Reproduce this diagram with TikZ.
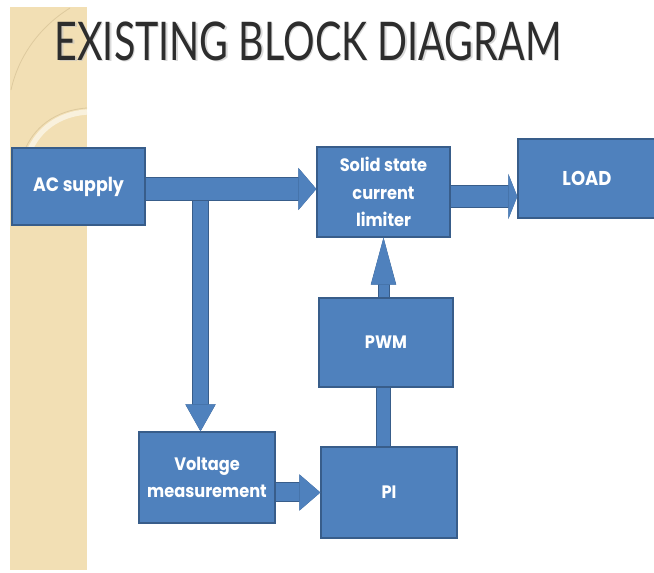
\documentclass[tikz,border=0pt]{standalone}
\usepackage{graphicx}
\usepackage{fontspec}
\setmainfont{Poppins}[FakeStretch=0.9]
\newfontfamily\titlefont{Lato}
\usetikzlibrary{arrows.meta,positioning,calc}

\definecolor{blockfill}{RGB}{79,129,189}
\definecolor{blockedge}{RGB}{56,93,138}
\definecolor{band}{RGB}{242,223,180}
\definecolor{bandline}{RGB}{222,202,158}
\definecolor{titlegray}{RGB}{45,45,45}

\newcommand{\titletext}{\scalebox{0.74}[1]{EXISTING BLOCK DIAGRAM}}

\tikzset{
  block/.style={rectangle, draw=blockedge, fill=blockfill, line width=1pt,
    text=white, font=\bfseries\fontsize{13.5}{20.5}\selectfont, align=center, inner sep=2pt},
  pipe/.style n args={3}{draw=blockfill, line width=#1,
    -{Triangle[length=#2,width=#3,line width=0pt]},
    preaction={draw=blockedge, line width=#1+1.5pt,
      -{Triangle[length=#2,width=#3,line width=1.5pt]}}},
  link/.style={draw=blockfill, line width=#1,
    preaction={draw=blockedge, line width=#1+1.5pt}},
}

\begin{document}
\begin{tikzpicture}[x=0.75pt, y=-0.75pt]
    \useasboundingbox (0,0) rectangle (654,573);

    % Side band
    \fill[band] (10,7) rectangle (87,570);
    \begin{scope}
        \clip (10,7) rectangle (87,570);
        \draw[bandline, line width=0.6pt] (70,8) .. controls (38,28) and (18,58) .. (11,90);
        \draw[white!55!band, line width=4pt] (87,112) .. controls (58,114) and (38,130) .. (29,152);
        \draw[bandline, line width=0.6pt] (87,108) .. controls (55,110) and (33,128) .. (24,152);
    \end{scope}

    % Title
    \node[font=\titlefont\fontsize{40}{40}\selectfont, text=black!25, opacity=0.6] (titleshadow) at (309.5,42.5) {\titletext};
    \node[font=\titlefont\fontsize{40}{40}\selectfont, text=titlegray] (title) at (308,41) {\titletext};

    % Blocks
    \node[block, minimum width=99.75pt, minimum height=57.75pt, font=\bfseries\fontsize{14.5}{18}\selectfont] (ac) at (78.5,186.5) {AC supply};
    \node[block, minimum width=99.75pt, minimum height=67.5pt] (limiter) at (383.5,192) {Solid state\\current\\limiter};
    \node[block, minimum width=103.5pt, minimum height=59.25pt, font=\bfseries\fontsize{15}{18}\selectfont] (load) at (587,178.5) {LOAD};
    \node[block, minimum width=100.5pt, minimum height=66.75pt] (pwm) at (386,342.5) {PWM};
    \node[block, minimum width=102pt, minimum height=68.25pt] (pi) at (389,492.5) {PI};
    \node[block, minimum width=102pt, minimum height=68.25pt] (meas) at (207,477.5) {Voltage\\measurement};

    % Arrows
    \coordinate (tap) at (200.5,192);
    \coordinate (acout) at ($(ac.east)+(0,2.5)$);
    \coordinate (limout) at ($(limiter.east)+(0,4.5)$);
    \draw[pipe={11.25pt}{20.25pt}{22.5pt}] (tap) -- (tap |- meas.north);
    \draw[pipe={16.5pt}{13.5pt}{31.5pt}] (acout) -- (acout -| limiter.west);
    \draw[pipe={15.75pt}{6.75pt}{33.75pt}] (limout) -- (limout -| load.west);
    \draw[link=9.75pt] (pi.north -| limiter.south) -- (pwm.south -| limiter.south);
    \draw[pipe={7.5pt}{35.25pt}{18.75pt}] (pwm.north -| limiter.south) -- (limiter.south);
    \draw[pipe={13.5pt}{15.75pt}{27pt}] (meas.east |- pi.west) -- (pi.west);
\end{tikzpicture}
\end{document}
